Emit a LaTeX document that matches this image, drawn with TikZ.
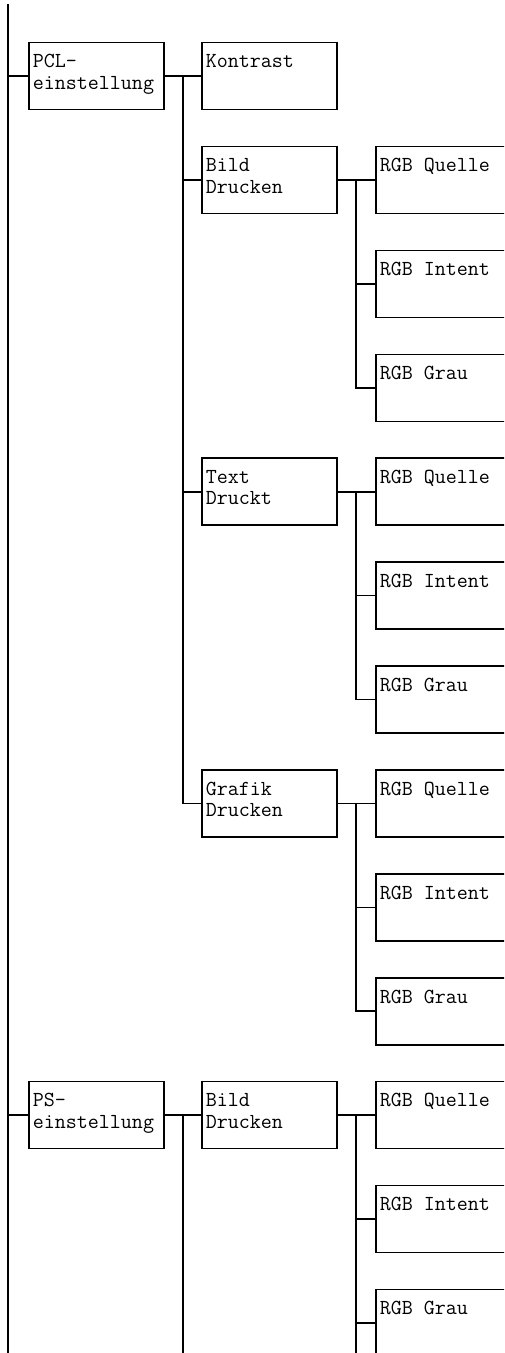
\documentclass[tikz,border=0pt]{standalone}
\newcommand{\menutext}[1]{\parbox[t][43pt][t]{127pt}{\raggedright #1}}
\tikzset{
  menubox/.style={draw=black,line width=1.6pt,anchor=north west,fill=white,
    minimum width=135pt,minimum height=67pt,inner xsep=4pt,inner ysep=12pt,
    font=\ttfamily\fontsize{21.4}{21.5}\selectfont},
  link/.style={draw=black,line width=1.6pt}
}

\begin{document}
\begin{tikzpicture}[x=1pt,y=-1pt]
  \path[use as bounding box,clip] (0,0) rectangle (504,1353);

  % first level
  \node[menubox] (pcl) at (28,41.8) {\menutext{PCL-\\einstellung}};
  \node[menubox] (ps) at (28,1080.8) {\menutext{PS-\\einstellung}};

  % second level
  \node[menubox] (kontrast) at (201,41.8) {\menutext{Kontrast}};
  \node[menubox] (bild) at (201,145.7) {\menutext{Bild\\Drucken}};
  \node[menubox] (text) at (201,457.4) {\menutext{Text\\Druckt}};
  \node[menubox] (grafik) at (201,769.1) {\menutext{Grafik\\Drucken}};
  \node[menubox] (psbild) at (201,1080.8) {\menutext{Bild\\Drucken}};

  % third level
  \node[menubox] (bildquelle) at (375,145.7) {\menutext{RGB Quelle}};
  \node[menubox] (bildintent) at (375,249.6) {\menutext{RGB Intent}};
  \node[menubox] (bildgrau) at (375,353.5) {\menutext{RGB Grau}};
  \node[menubox] (textquelle) at (375,457.4) {\menutext{RGB Quelle}};
  \node[menubox] (textintent) at (375,561.3) {\menutext{RGB Intent}};
  \node[menubox] (textgrau) at (375,665.2) {\menutext{RGB Grau}};
  \node[menubox] (grafikquelle) at (375,769.1) {\menutext{RGB Quelle}};
  \node[menubox] (grafikintent) at (375,873) {\menutext{RGB Intent}};
  \node[menubox] (grafikgrau) at (375,976.9) {\menutext{RGB Grau}};
  \node[menubox] (psquelle) at (375,1080.8) {\menutext{RGB Quelle}};
  \node[menubox] (psintent) at (375,1184.7) {\menutext{RGB Intent}};
  \node[menubox] (psgrau) at (375,1288.6) {\menutext{RGB Grau}};

  % bus points
  \coordinate (trunktop) at (8,4);
  \coordinate (trunkend) at (8,1353);
  \coordinate (pclbus) at (183,75.3);
  \coordinate (psbus) at (183,1114.3);
  \coordinate (psbusend) at (183,1353);
  \coordinate (bildbus) at (356,179.2);
  \coordinate (textbus) at (356,490.9);
  \coordinate (grafikbus) at (356,802.6);
  \coordinate (psbildbus) at (356,1114.3);
  \coordinate (psbildbusend) at (356,1353);

  \draw[link] (trunktop) -- (trunkend);
  \draw[link] (trunktop |- pcl.west) -- (pcl.west);
  \draw[link] (trunktop |- ps.west) -- (ps.west);

  \draw[link] (pcl.east) -- (kontrast.west);
  \draw[link] (pclbus) |- (bild.west);
  \draw[link] (pclbus) |- (text.west);
  \draw[link] (pclbus) |- (grafik.west);
  \draw[link] (ps.east) -- (psbild.west);
  \draw[link] (psbus) -- (psbusend);

  \draw[link] (bild.east) -- (bildquelle.west);
  \draw[link] (bildbus) |- (bildintent.west);
  \draw[link] (bildbus) |- (bildgrau.west);
  \draw[link] (text.east) -- (textquelle.west);
  \draw[link] (textbus) |- (textintent.west);
  \draw[link] (textbus) |- (textgrau.west);
  \draw[link] (grafik.east) -- (grafikquelle.west);
  \draw[link] (grafikbus) |- (grafikintent.west);
  \draw[link] (grafikbus) |- (grafikgrau.west);
  \draw[link] (psbild.east) -- (psquelle.west);
  \draw[link] (psbildbus) |- (psintent.west);
  \draw[link] (psbildbus) |- (psgrau.west);
  \draw[link] (psbildbus) -- (psbildbusend);
\end{tikzpicture}
\end{document}
